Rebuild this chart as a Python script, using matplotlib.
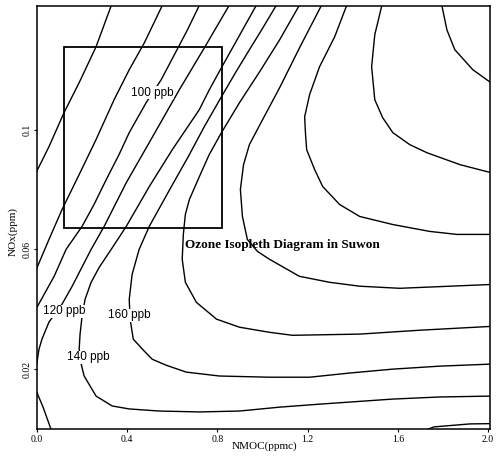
import matplotlib
matplotlib.use("Agg")
import matplotlib.pyplot as plt
from matplotlib.patches import Rectangle

# ---- isopleth traces: NMOC (ppmC) , NOx (ppm) ----
iso_a_x = [-0.005, 0.053, 0.12, 0.187, 0.262, 0.332]
iso_a_y = [0.0855, 0.0943, 0.1057, 0.1157, 0.1277, 0.1420]

iso_b_x = [-0.005, 0.053, 0.111, 0.187, 0.262, 0.342, 0.409, 0.476, 0.559]
iso_b_y = [0.0530, 0.0633, 0.0733, 0.0850, 0.0967, 0.1100, 0.1200, 0.1290, 0.1420]

iso_100_x = [-0.005, 0.076, 0.129, 0.200, 0.253, 0.307, 0.364, 0.409, 0.484, 0.551, 0.609, 0.667, 0.723]
iso_100_y = [0.0400, 0.0510, 0.0600, 0.0677, 0.0750, 0.0833, 0.0917, 0.0990, 0.1090, 0.1167, 0.1250, 0.1333, 0.1420]

iso_120_x = [0.856, 0.742, 0.631, 0.498, 0.396, 0.298, 0.240, 0.156, 0.111, 0.053, 0.022, 0.009, -0.005]
iso_120_y = [0.1420, 0.1273, 0.1133, 0.0957, 0.0823, 0.0677, 0.0600, 0.0477, 0.0417, 0.0357, 0.0300, 0.0267, 0.0200]

iso_140_x = [0.976, 0.818, 0.764, 0.720, 0.600, 0.498, 0.396, 0.329, 0.276, 0.240, 0.213, 0.200, 0.191,
             0.187, 0.196, 0.209, 0.262, 0.333, 0.409, 0.542, 0.720, 0.898, 1.076, 1.253, 1.578, 1.787, 2.02]
iso_140_y = [0.1420, 0.1207, 0.1133, 0.1067, 0.0933, 0.0810, 0.0677, 0.0600, 0.0540, 0.0490, 0.0433, 0.0377, 0.0317,
             0.0267, 0.0217, 0.0177, 0.0110, 0.0077, 0.0067, 0.0060, 0.0057, 0.0060, 0.0073, 0.0083, 0.0100, 0.0107, 0.0110]

iso_160_x = [1.065, 0.996, 0.942, 0.880, 0.818, 0.742, 0.671, 0.596, 0.498, 0.453, 0.422, 0.409, 0.413, 0.427,
             0.476, 0.511, 0.573, 0.662, 0.809, 1.031, 1.209, 1.387, 1.578, 1.787, 2.02]
iso_160_y = [0.1420, 0.1333, 0.1267, 0.1190, 0.1110, 0.1010, 0.0910, 0.0810, 0.0677, 0.0600, 0.0517, 0.0433, 0.0367, 0.0300,
             0.0260, 0.0233, 0.0213, 0.0190, 0.0177, 0.0173, 0.0173, 0.0187, 0.0200, 0.0210, 0.0217]

iso_180_x = [1.167, 1.076, 0.987, 0.898, 0.818, 0.764, 0.720, 0.676, 0.658, 0.649, 0.644, 0.658, 0.707, 0.796,
             0.898, 1.031, 1.133, 1.431, 1.698, 2.02]
iso_180_y = [0.1420, 0.1300, 0.1193, 0.1090, 0.0990, 0.0917, 0.0843, 0.0767, 0.0717, 0.0650, 0.0567, 0.0490, 0.0423, 0.0367,
             0.0340, 0.0323, 0.0313, 0.0317, 0.0330, 0.0343]

iso_200_x = [1.265, 1.164, 1.076, 0.996, 0.942, 0.916, 0.902, 0.911, 0.933, 0.978, 1.031, 1.164, 1.298, 1.431,
             1.609, 1.831, 2.02]
iso_200_y = [0.1420, 0.1273, 0.1140, 0.1027, 0.0950, 0.0883, 0.0800, 0.0710, 0.0633, 0.0593, 0.0567, 0.0510, 0.0490, 0.0477,
             0.0470, 0.0477, 0.0483]

iso_220_x = [1.376, 1.320, 1.253, 1.209, 1.187, 1.191, 1.196, 1.231, 1.267, 1.342, 1.431, 1.578, 1.742, 1.862, 2.02]
iso_220_y = [0.1420, 0.1310, 0.1210, 0.1117, 0.1043, 0.0983, 0.0933, 0.0867, 0.0810, 0.0750, 0.0710, 0.0683, 0.0660, 0.0650, 0.0650]

iso_240_x = [1.531, 1.498, 1.484, 1.498, 1.533, 1.578, 1.653, 1.729, 1.876, 2.02]
iso_240_y = [0.1420, 0.1317, 0.1210, 0.1100, 0.1040, 0.0990, 0.0950, 0.0923, 0.0883, 0.0855]

iso_260_x = [1.794, 1.818, 1.853, 1.933, 2.02]
iso_260_y = [0.1420, 0.1333, 0.1267, 0.1200, 0.1153]

iso_corner_x = [-0.005, 0.027, 0.064]
iso_corner_y = [0.0130, 0.0073, -0.0005]

iso_br_x = [1.72, 1.76, 1.92, 2.02]
iso_br_y = [-0.0005, 0.0007, 0.0017, 0.0018]

# study-area box (NMOC range, NOx range)
box_nmoc = [0.12, 0.822]
box_nox = [0.0673, 0.1277]

# contour labels
label_text = ["100 ppb", "120 ppb", "140 ppb", "160 ppb"]
label_x = [0.511, 0.120, 0.227, 0.409]
label_y = [0.1123, 0.0393, 0.0240, 0.0380]

xticks = [0.0, 0.4, 0.8, 1.2, 1.6, 2.0]
xtick_labels = ["0.0", "0.4", "0.8", "1.2", "1.6", "2.0"]
yticks = [0.02, 0.06, 0.1]
ytick_labels = ["0.02", "0.06", "0.1"]

W, H = 499, 457
fig = plt.figure(figsize=(W / 100, H / 100), dpi=100)
ax = fig.add_axes([37 / W, (H - 429) / H, (490 - 37) / W, (429 - 6) / H])

lines = [
    (iso_a_x, iso_a_y), (iso_b_x, iso_b_y), (iso_100_x, iso_100_y), (iso_120_x, iso_120_y),
    (iso_140_x, iso_140_y), (iso_160_x, iso_160_y), (iso_180_x, iso_180_y), (iso_200_x, iso_200_y),
    (iso_220_x, iso_220_y), (iso_240_x, iso_240_y), (iso_260_x, iso_260_y),
    (iso_corner_x, iso_corner_y), (iso_br_x, iso_br_y),
]
for xs, ys in lines:
    ax.plot(xs, ys, color="black", lw=1.0, solid_joinstyle="round")

ax.add_patch(Rectangle((box_nmoc[0], box_nox[0]), box_nmoc[1] - box_nmoc[0],
                       box_nox[1] - box_nox[0], fill=False, ec="black", lw=1.3, zorder=3))

for t, x, y in zip(label_text, label_x, label_y):
    ax.text(x, y, t, ha="center", va="center", fontsize=8.5, family="Liberation Sans",
            bbox=dict(boxstyle="square,pad=0.05", fc="white", ec="none"), zorder=4)

ax.text(1.087, 0.0613, "Ozone Isopleth Diagram in Suwon", ha="center", va="center",
        fontsize=9.5, family="Liberation Serif", fontweight="bold", zorder=4)

ax.set_xlim(0, 2.009)
ax.set_ylim(0, 0.1413)
ax.set_xticks(xticks)
ax.set_xticklabels(xtick_labels, family="Liberation Serif", fontsize=7)
ax.set_yticks(yticks)
ax.set_yticklabels(ytick_labels, family="Liberation Serif", fontsize=7, rotation=90, va="center")
ax.tick_params(direction="out", length=2.5, width=0.8, pad=2)
ax.tick_params(axis="y", pad=1.5)
for s in ax.spines.values():
    s.set_linewidth(1.1)

fig.text(265 / W, 1 - 446 / H, "NMOC(ppmc)", ha="center", va="center",
         family="Liberation Serif", fontsize=8)
fig.text(13 / W, 1 - 232 / H, "NOx(ppm)", ha="center", va="center", rotation=90,
         family="Liberation Serif", fontsize=8)

fig.savefig("out.png", dpi=100)
